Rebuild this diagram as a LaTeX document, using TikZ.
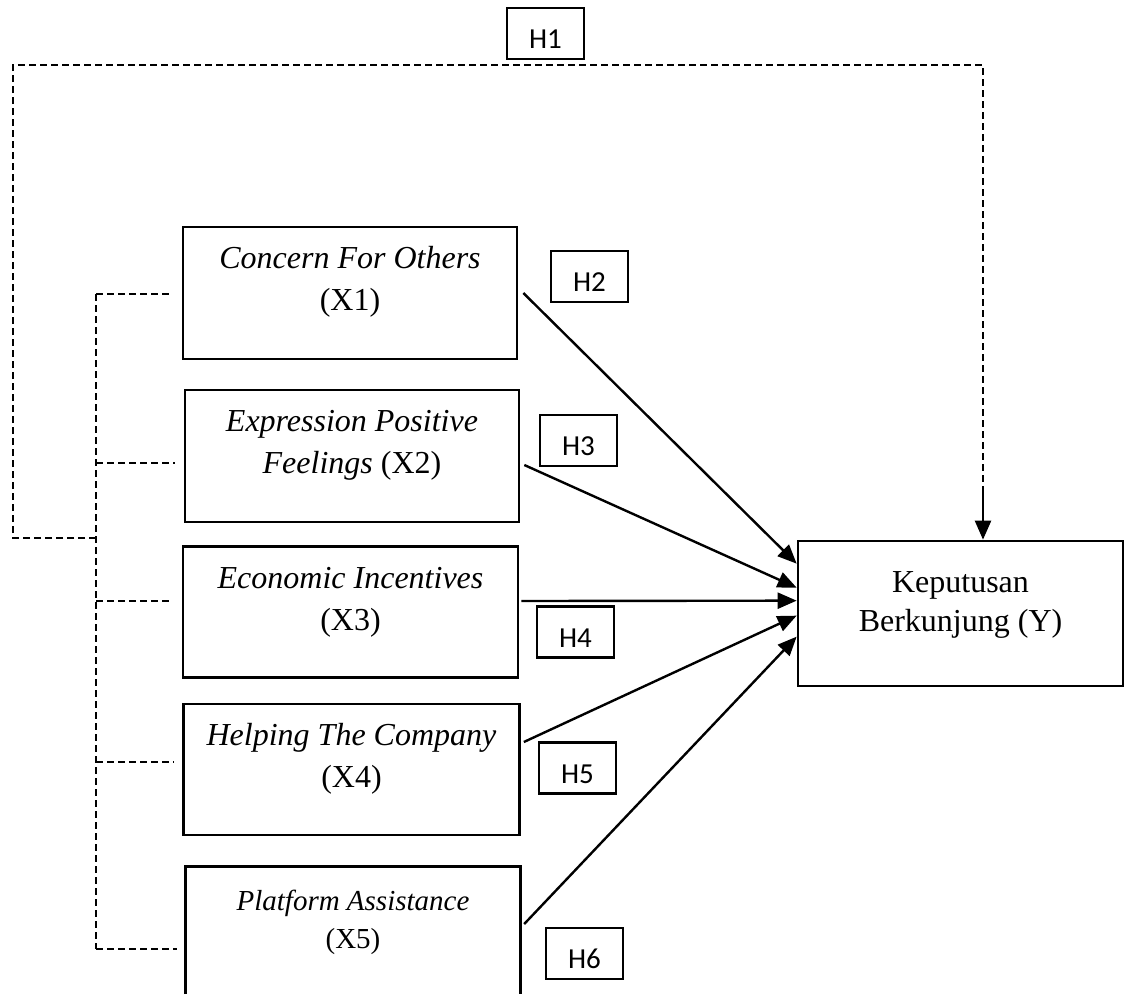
\documentclass[tikz,border=0pt]{standalone}
\usepackage{fontspec}
\setmainfont{Liberation Serif}
\newfontfamily\hfont{Carlito}
\usetikzlibrary{arrows.meta,calc}
\begin{document}
\begin{tikzpicture}[x=1pt,y=-1pt,
  boxline/.style={line width=2.7pt},
  box/.style={draw,boxline,inner sep=0pt},
  hbox/.style={draw,line width=2.7pt,minimum width=77pt,minimum height=51pt,inner sep=0pt,
    text height=30pt,text depth=0pt,font=\hfont\fontsize{29}{32}\selectfont},
  lbl/.style={align=center,inner sep=0pt,font=\fontsize{32}{42}\selectfont},
  dline/.style={line width=2pt,dash pattern=on 7pt off 4pt},
  arr/.style={line width=2.4pt,-{Triangle[length=19pt,width=16pt]}}]
\useasboundingbox (0,0) rectangle (1125,994);
% boxes
\node[box,minimum width=334pt,minimum height=132pt] (x1) at (350,293) {};
\node[box,minimum width=334pt,minimum height=132pt] (x2) at (352,456) {};
\node[box,minimum width=335pt,minimum height=131pt] (x3) at (350.5,612) {};
\node[box,minimum width=336pt,minimum height=131pt] (x4) at (351.5,769.5) {};
\node[inner sep=0pt,minimum width=334pt,minimum height=132pt] (x5) at (353,933) {};
\coordinate (cut) at (0,994);
\draw[boxline] (x5.west |- cut) -- (x5.north west) -- (x5.north east) -- (x5.east |- cut);
\node[box,minimum width=325pt,minimum height=145pt] (y) at (960.5,613.5) {};
% texts
\node[lbl] (t1) at (350,282) {\textit{Concern For Others}\\(X1)};
\node[lbl] (t2) at (352,445) {\textit{Expression Positive}\\\textit{Feelings} (X2)};
\node[lbl] (t3) at (350.5,602) {\textit{Economic Incentives}\\(X3)};
\node[lbl] (t4) at (351.5,759) {\textit{Helping The Company}\\(X4)};
\node[lbl,font=\fontsize{29}{38}\selectfont] (t5) at (353,922) {\textit{Platform Assistance}\\(X5)};
\node[lbl,font=\fontsize{32}{39}\selectfont] (ty) at (960.5,605) {Keputusan\\Berkunjung (Y)};
% hypothesis labels
\node[hbox] (h1) at (545.5,33.5) {H1};
\node[hbox] (h2) at (589.5,276.5) {H2};
\node[hbox] (h3) at (578.5,440.5) {H3};
\node[hbox] (h4) at (575.5,632) {H4};
\node[hbox] (h5) at (577.5,768) {H5};
\node[hbox] (h6) at (584.5,953.5) {H6};
% dashed correlation bus
\coordinate (bus1) at (96,294);
\coordinate (bus2) at (96,463);
\coordinate (bus3) at (96,601);
\coordinate (bus4) at (96,762);
\coordinate (bus5) at (96,949);
\draw[dline] (bus1) -- (bus5);
\draw[dline,shorten >=9pt] (bus1) -- (bus1 -| x1.west);
\draw[dline,shorten >=9pt] (bus2) -- (bus2 -| x2.west);
\draw[dline,shorten >=9pt] (bus3) -- (bus3 -| x3.west);
\draw[dline,shorten >=9pt] (bus4) -- (bus4 -| x4.west);
\draw[dline,shorten >=9pt] (bus5) -- (bus5 -| x5.west);
% H1 loop
\coordinate (lp1) at (96,538);
\coordinate (lp2) at (13,538);
\coordinate (lp3) at (13,65);
\coordinate (lp4) at (983,65);
\coordinate (lp5) at (983,493);
\draw[dline] (lp1) -- (lp2) -- (lp3) -- (lp4) -- (lp5);
\draw[arr] (lp5) -- (lp5 |- y.north);
% arrows
\draw[arr] ($(x1.east)+(5,0)$) -- ($(y.north west)+(0,24)$);
\draw[arr] ($(x2.east)+(4,9)$) -- ($(y.north west)+(0,48)$);
\draw[arr] ($(x3.east)+(2,-11)$) -- ($(y.north west)+(0,61)$);
\draw[arr] ($(x4.east)+(3,-27.5)$) -- ($(y.north west)+(0,76)$);
\draw[arr] ($(x5.east)+(4,-9)$) -- ($(y.north west)+(0,97)$);
\end{tikzpicture}
\end{document}
